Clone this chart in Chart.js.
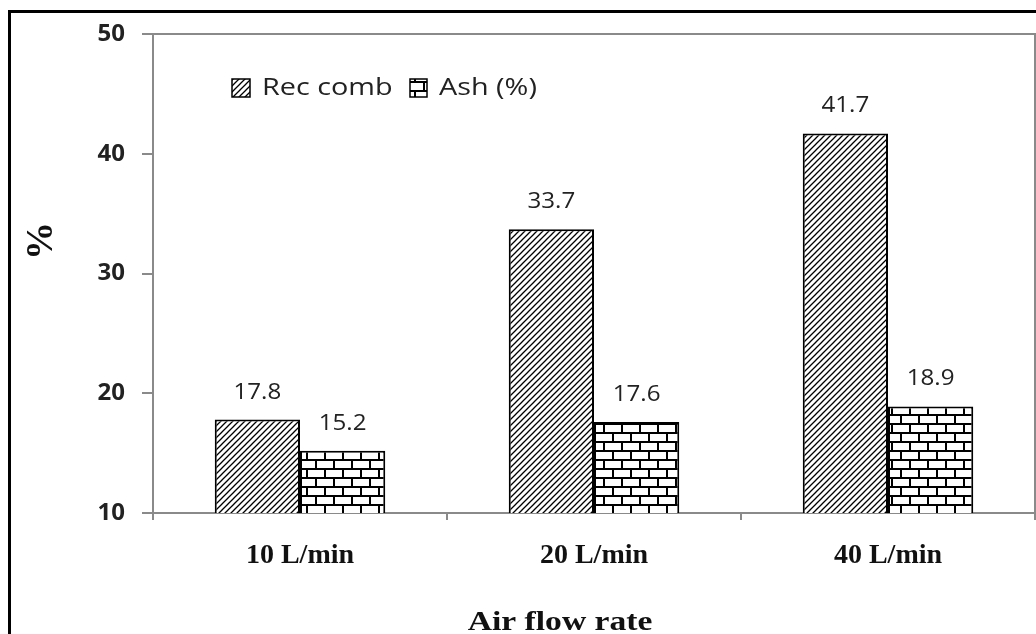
<!DOCTYPE html>
<html>
<head>
<meta charset="utf-8">
<script src="https://cdn.jsdelivr.net/npm/chart.js@4.4.1/dist/chart.umd.min.js"></script>
<style>
  html, body { margin: 0; padding: 0; background: #fff; }
  #wrap { position: relative; width: 1036px; height: 634px; }
</style>
</head>
<body>
<div id="wrap"><canvas id="c" width="1036" height="634"></canvas></div>
<script>
// ---- data ----
const categories = ['10 L/min', '20 L/min', '40 L/min'];
const recComb = [17.8, 33.7, 41.7];
const ash = [15.2, 17.6, 18.9];
const seriesNames = ['Rec comb', 'Ash (%)'];
const yTicks = [10, 20, 30, 40, 50];
const xTitle = 'Air flow rate';
const yTitle = '%';

// ---- patterns ----
function makeDiag() {
  const c = document.createElement('canvas');
  c.width = 6; c.height = 6;
  const g = c.getContext('2d');
  g.fillStyle = '#fff'; g.fillRect(0, 0, 6, 6);
  g.strokeStyle = '#000'; g.lineWidth = 1.3;
  g.beginPath();
  g.moveTo(0, 6); g.lineTo(6, 0);
  g.moveTo(-1, 1); g.lineTo(1, -1);
  g.moveTo(5, 7); g.lineTo(7, 5);
  g.stroke();
  return g.createPattern(c, 'repeat');
}
function makeBrick() {
  const c = document.createElement('canvas');
  c.width = 18; c.height = 18;
  const g = c.getContext('2d');
  g.fillStyle = '#fff'; g.fillRect(0, 0, 18, 18);
  g.fillStyle = '#000';
  g.fillRect(0, 0, 18, 2);
  g.fillRect(0, 9, 18, 2);
  g.fillRect(0, 0, 2, 9);
  g.fillRect(9, 9, 2, 9);
  return g.createPattern(c, 'repeat');
}
const diag = makeDiag();
const brick = makeBrick();
const fills = [diag, brick];

function scaledText(ctx, text, x, y, font, sx, align, color) {
  ctx.save();
  ctx.font = font;
  ctx.fillStyle = color;
  ctx.textBaseline = 'middle';
  ctx.translate(x, y);
  ctx.scale(sx, 1);
  ctx.textAlign = align;
  ctx.fillText(text, 0, 0);
  ctx.restore();
}

const decor = {
  id: 'decor',
  beforeDatasetsDraw(chart) {
    const a = chart.chartArea, ctx = chart.ctx;
    ctx.save();
    ctx.strokeStyle = '#8a8a8a';
    ctx.lineWidth = 2;
    ctx.strokeRect(a.left, a.top, a.right - a.left, a.bottom - a.top);
    ctx.restore();
  },
  afterDraw(chart) {
    const ctx = chart.ctx;
    // data labels
    chart.data.datasets.forEach((ds, i) => {
      const meta = chart.getDatasetMeta(i);
      meta.data.forEach((el, j) => {
        scaledText(ctx, ds.data[j].toFixed(1), el.x, el.y - 27,
          '21px "Open Sans"', 1.15, 'center', '#222');
      });
    });
    // legend
    const boxes = [[232, 79, 18, 18, 262], [410, 79, 17, 18, 439]];
    boxes.forEach((b, i) => {
      ctx.save();
      ctx.fillStyle = fills[i];
      ctx.fillRect(b[0], b[1], b[2], b[3]);
      ctx.strokeStyle = '#000'; ctx.lineWidth = 1.5;
      ctx.strokeRect(b[0], b[1], b[2], b[3]);
      ctx.restore();
      scaledText(ctx, seriesNames[i], b[4], 88, '24px "Open Sans"', 1.2, 'left', '#222');
    });
    // axis titles
    ctx.save();
    ctx.font = 'bold 28px "Liberation Serif"';
    ctx.fillStyle = '#111';
    ctx.textBaseline = 'alphabetic';
    ctx.translate(560, 630);
    ctx.scale(1.2, 1);
    ctx.textAlign = 'center';
    ctx.fillText(xTitle, 0, 0);
    ctx.restore();

    ctx.save();
    ctx.font = 'bold 38px "Liberation Serif"';
    ctx.fillStyle = '#111';
    ctx.translate(40, 241);
    ctx.rotate(-Math.PI / 2);
    ctx.textAlign = 'center';
    ctx.textBaseline = 'middle';
    ctx.fillText(yTitle, 0, 2);
    ctx.restore();

    // outer frame
    ctx.save();
    ctx.strokeStyle = '#000';
    ctx.lineWidth = 3;
    ctx.strokeRect(9.5, 11.5, 1200, 800);
    ctx.restore();
  }
};

new Chart(document.getElementById('c'), {
  type: 'bar',
  data: {
    labels: categories,
    datasets: [
      { label: seriesNames[0], data: recComb, backgroundColor: diag, borderColor: '#000', borderWidth: 2, borderSkipped: false },
      { label: seriesNames[1], data: ash, backgroundColor: brick, borderColor: '#000', borderWidth: 2, borderSkipped: false }
    ]
  },
  options: {
    responsive: false,
    devicePixelRatio: 1,
    animation: false,
    categoryPercentage: 0.58,
    barPercentage: 1.0,
    layout: { padding: { left: 0, top: 34, right: 1, bottom: 0 } },
    plugins: { legend: { display: false }, tooltip: { enabled: false } },
    scales: {
      y: {
        min: yTicks[0], max: yTicks[yTicks.length - 1],
        afterBuildTicks(scale) { scale.ticks = yTicks.map(v => ({ value: v })); },
        afterFit(scale) { scale.width = 153; },
        ticks: { font: { family: 'Open Sans', weight: 'bold', size: 24 }, color: '#222', padding: 17 },
        grid: { drawOnChartArea: false, tickLength: 11, color: '#8a8a8a', lineWidth: 2 },
        border: { color: '#8a8a8a', width: 2 }
      },
      x: {
        afterFit(scale) { scale.height = 121; },
        ticks: { font: { family: 'Liberation Serif', weight: 'bold', size: 28 }, color: '#111', padding: 19 },
        grid: { offset: true, drawOnChartArea: false, tickLength: 7, color: '#8a8a8a', lineWidth: 2 },
        border: { color: '#8a8a8a', width: 2 }
      }
    }
  },
  plugins: [decor]
});
</script>
</body>
</html>
